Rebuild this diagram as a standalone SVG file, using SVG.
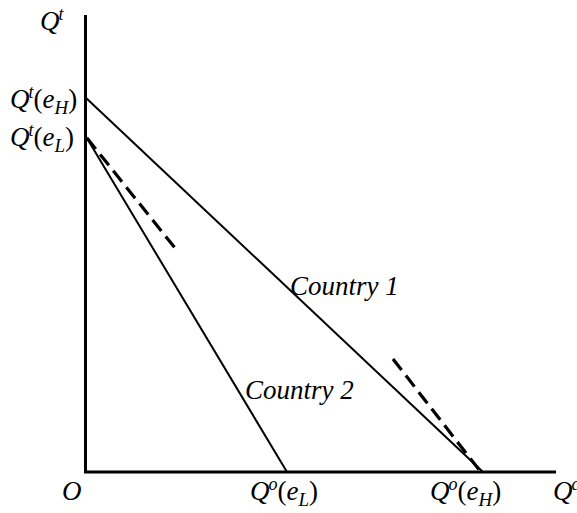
<svg xmlns="http://www.w3.org/2000/svg" width="577" height="513" viewBox="0 0 577 513">
<style>
text{font-family:"Liberation Serif","Times New Roman",serif;font-style:italic;font-size:27px;fill:#000}
.sup{font-size:18px}
.sub{font-size:19px}
.up{font-style:normal}
.axis{stroke:#000;stroke-width:3;fill:none}
.line{stroke:#000;stroke-width:2;fill:none}
.dash{stroke:#000;stroke-width:3.2;fill:none;stroke-dasharray:14 7}
</style>
<rect width="577" height="513" fill="#fff"/>
<g id="connectors">
<path class="axis" d="M85.5 15V472H556"/>
<path class="line" d="M85 97L483 472"/>
<path class="line" d="M85 135L287 472"/>
<path class="dash" d="M87 138L175 248"/>
<path class="dash" d="M393 359L480 471"/>
</g>
<g id="labels">
<text x="40" y="30">Q<tspan class="sup" dx="-1" dy="-10">t</tspan></text>
<text x="10" y="108">Q<tspan class="sup" dx="-1" dy="-10">t</tspan><tspan class="up" dy="10">(</tspan>e<tspan class="sub" dy="6">H</tspan><tspan class="up" dy="-6">)</tspan></text>
<text x="10" y="146">Q<tspan class="sup" dx="-1" dy="-10">t</tspan><tspan class="up" dy="10">(</tspan>e<tspan class="sub" dy="6">L</tspan><tspan class="up" dy="-6">)</tspan></text>
<text x="290" y="295">Country 1</text>
<text x="245" y="399">Country 2</text>
<text x="62" y="500">O</text>
<text x="250" y="500">Q<tspan class="sup" dx="-1" dy="-10">o</tspan><tspan class="up" dy="10">(</tspan>e<tspan class="sub" dy="6">L</tspan><tspan class="up" dy="-6">)</tspan></text>
<text x="430" y="500">Q<tspan class="sup" dx="-1" dy="-10">o</tspan><tspan class="up" dy="10">(</tspan>e<tspan class="sub" dy="6">H</tspan><tspan class="up" dy="-6">)</tspan></text>
<text x="553" y="500">Q<tspan class="sup" dx="-1" dy="-10">c</tspan></text>
</g>
</svg>
